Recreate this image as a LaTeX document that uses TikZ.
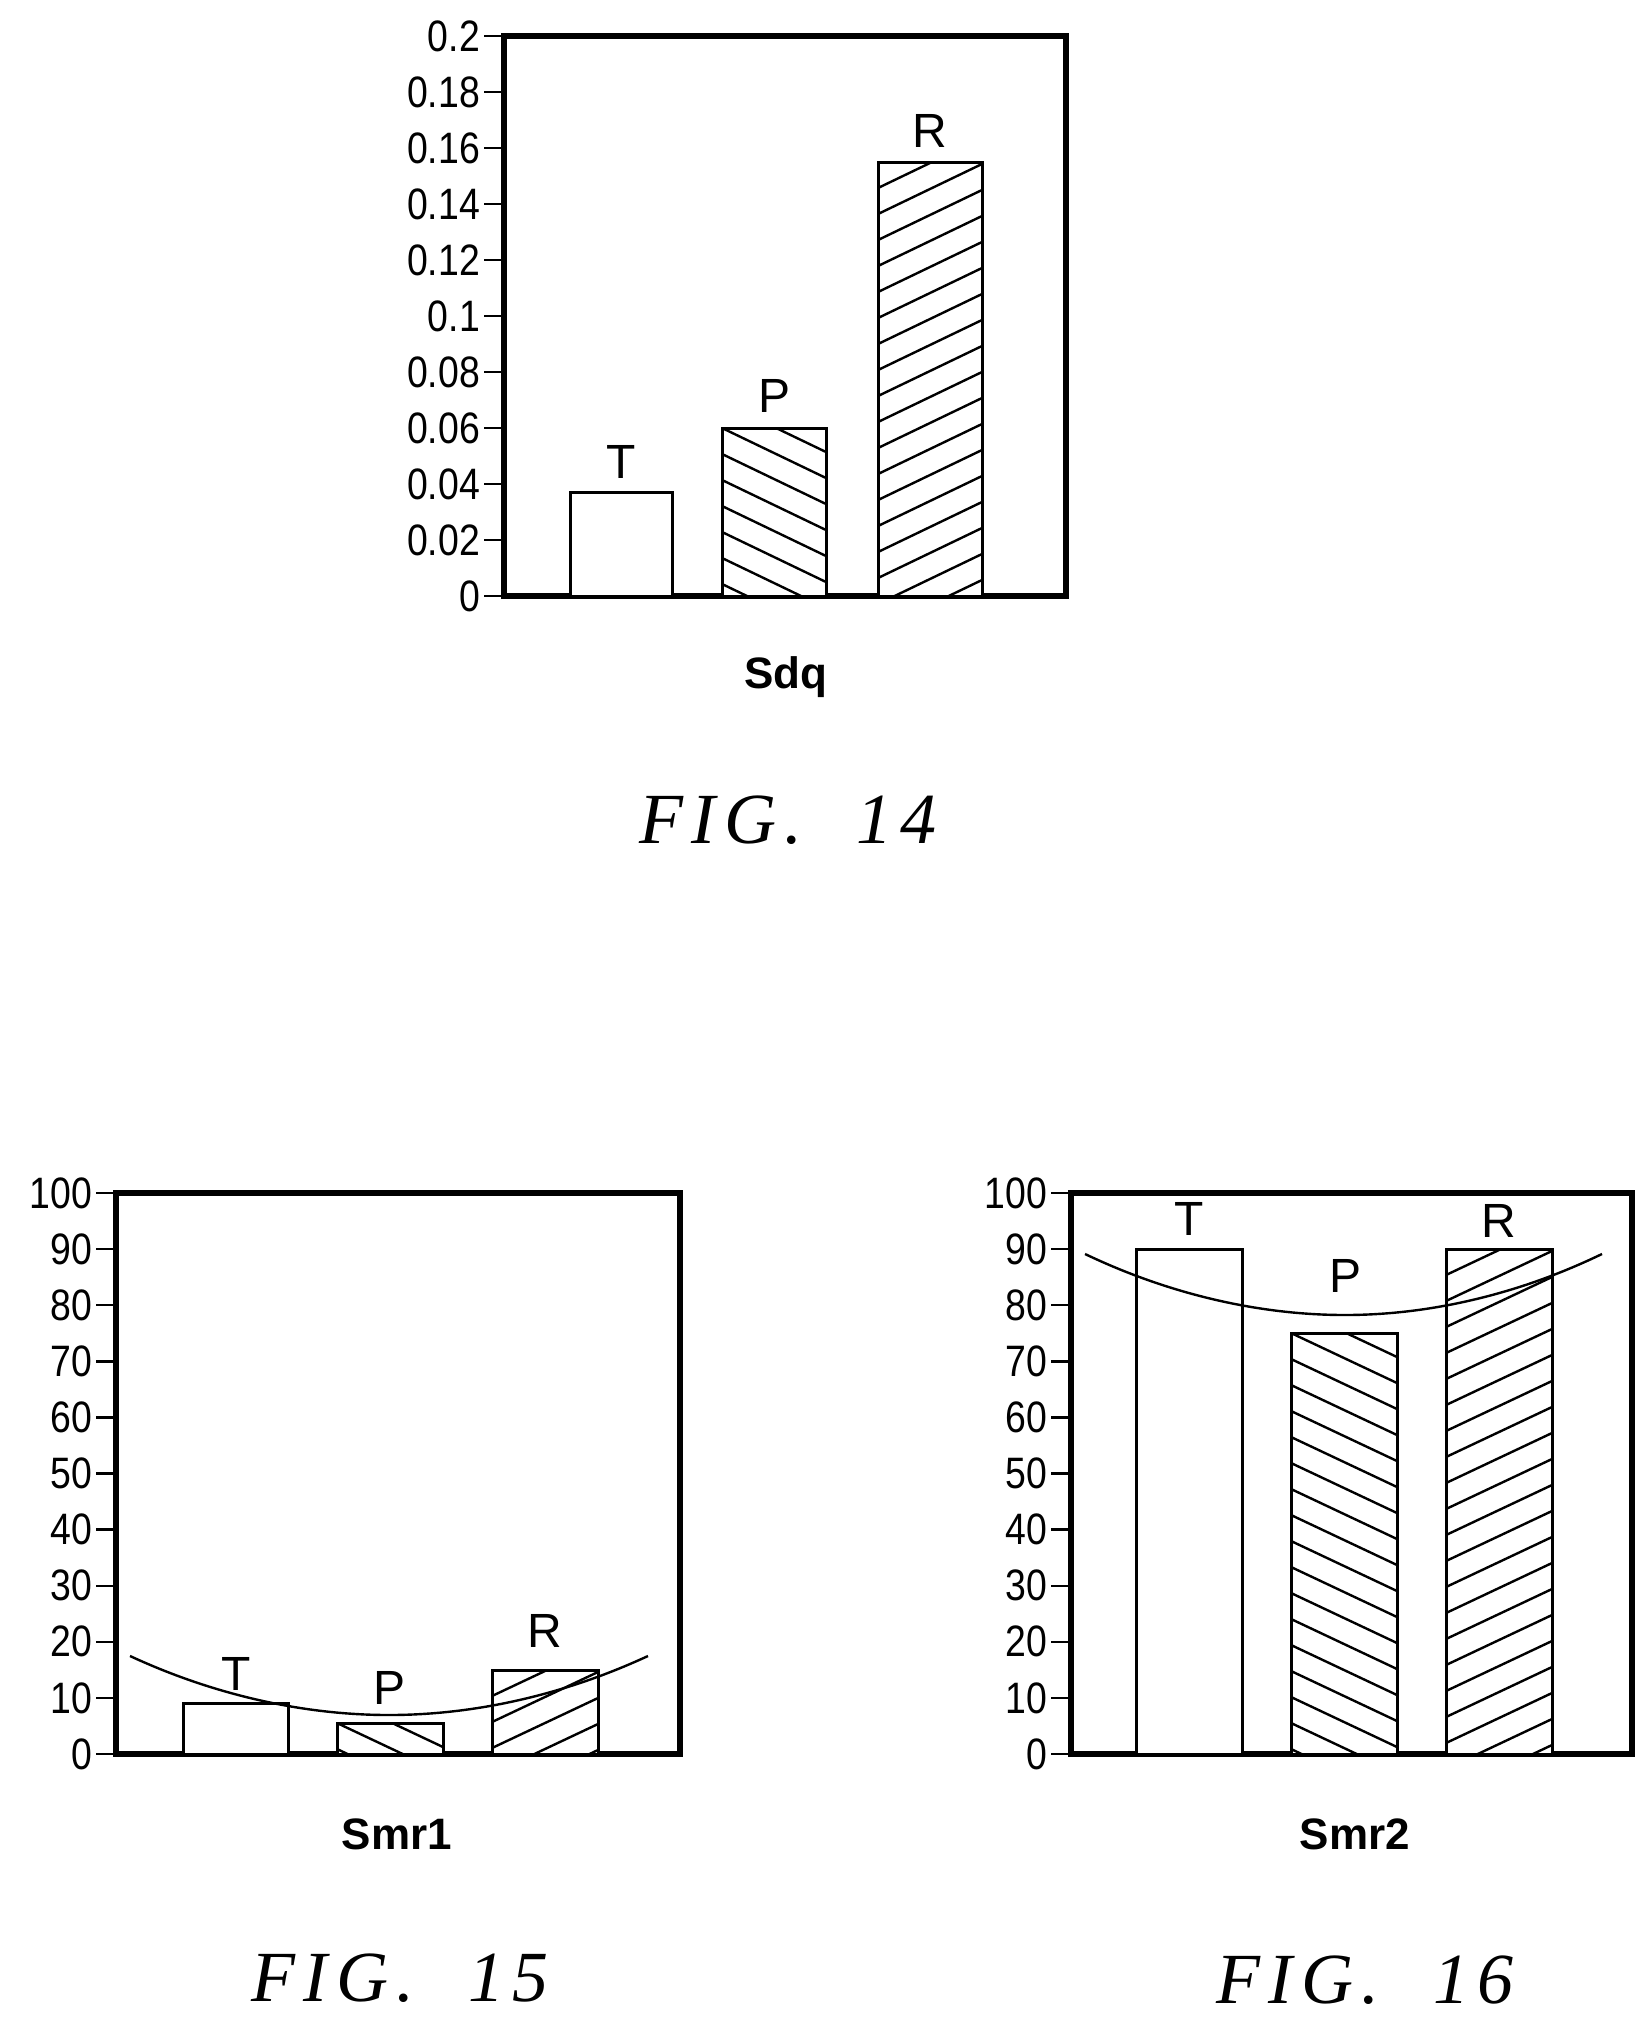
\documentclass[tikz,border=0pt]{standalone}
\usepackage{fontspec}
\setmainfont{Liberation Serif}
\setsansfont{Liberation Sans}
% hatched bar: left, right, top, bottom, drop of a hatch line
\newcommand\hatchbar[5]{%
  \draw[bar] (#1,#4) rectangle (#2,#3);
  \begin{scope}
    \clip (#1,#4) rectangle (#2,#3);
    \foreach \k in {-3,...,24} \draw[hatchline] (#1,#3+26*\k) -- (#2,#3+26*\k+#5);
  \end{scope}
  \draw[bar,fill=none] (#1,#4) rectangle (#2,#3);}
\begin{document}
\begin{tikzpicture}[x=0.5pt,y=-0.5pt,
  frame/.style={draw,line width=3pt},
  bar/.style={draw,line width=1.5pt,fill=white},
  hatchline/.style={line width=1.2pt},
  ticklab/.style={anchor=east,font=\sffamily\fontsize{22}{22}\selectfont,inner sep=1pt,xscale=0.85},
  barlab/.style={font=\sffamily\fontsize{24}{24}\selectfont},
  axlab/.style={font=\sffamily\bfseries\fontsize{22}{22}\selectfont},
  figlab/.style={font=\itshape\fontsize{36}{36}\selectfont\addfontfeature{LetterSpace=12}}]
\useasboundingbox (0,0) rectangle (1651,2018);

% FIG. 14
\draw[frame] (504,36) rectangle (1066,596);
\foreach \v/\t in {0/0,1/0.02,2/0.04,3/0.06,4/0.08,5/0.1,6/0.12,7/0.14,8/0.16,9/0.18,10/0.2}{
  \draw[line width=1.2pt] (484,596-56*\v) -- (504,596-56*\v);
  \node[ticklab] at (482,596-56*\v) {\t};}
\draw[bar] (570,596) rectangle (672,492);
\hatchbar{722}{826}{428}{596}{50}
\hatchbar{878}{982}{162}{596}{-50}
\node[barlab] (t14) at (621,462) {T};
\node[barlab] (p14) at (774,396) {P};
\node[barlab] (r14) at (930,131) {R};
\node[axlab] (ax14) at (786,677) {Sdq};
\node[figlab] (fig14) at (788,820) {FIG.~~14};

% FIG. 15
\draw[frame] (116,1193) rectangle (680,1754);
\draw[frame] (1071,1193) rectangle (1632,1754);
\foreach \ox in {116,1071}{
  \foreach \v in {0,10,...,100}{
    \draw[line width=1.2pt] (\ox-20,1754-5.61*\v) -- (\ox,1754-5.61*\v);
    \node[ticklab] at (\ox-22,1754-5.61*\v) {\v};}}
\draw[bar] (183,1754) rectangle (288,1703);
\hatchbar{337}{443}{1723}{1754}{50}
\hatchbar{492}{598}{1670}{1754}{-50}
\draw[line width=1.2pt] (130,1656) parabola bend (389,1715) (648,1656);
\node[barlab] (t15) at (236,1674) {T};
\node[barlab] (p15) at (390,1688) {P};
\node[barlab] (r15) at (545,1631) {R};
\node[axlab] (ax15) at (397,1834) {Smr1};
\node[figlab] (fig15) at (400,1978) {FIG.~~15};

% FIG. 16
\draw[bar] (1136,1754) rectangle (1242,1249);
\hatchbar{1291}{1397}{1333}{1754}{50}
\hatchbar{1446}{1552}{1249}{1754}{-50}
\draw[line width=1.2pt] (1085,1254) parabola bend (1345,1315) (1602,1254);
\node[barlab] (t16) at (1189,1219) {T};
\node[barlab] (p16) at (1345,1276) {P};
\node[barlab] (r16) at (1499,1221) {R};
\node[axlab] (ax16) at (1355,1834) {Smr2};
\node[figlab] (fig16) at (1365,1980) {FIG.~~16};
\end{tikzpicture}
\end{document}
